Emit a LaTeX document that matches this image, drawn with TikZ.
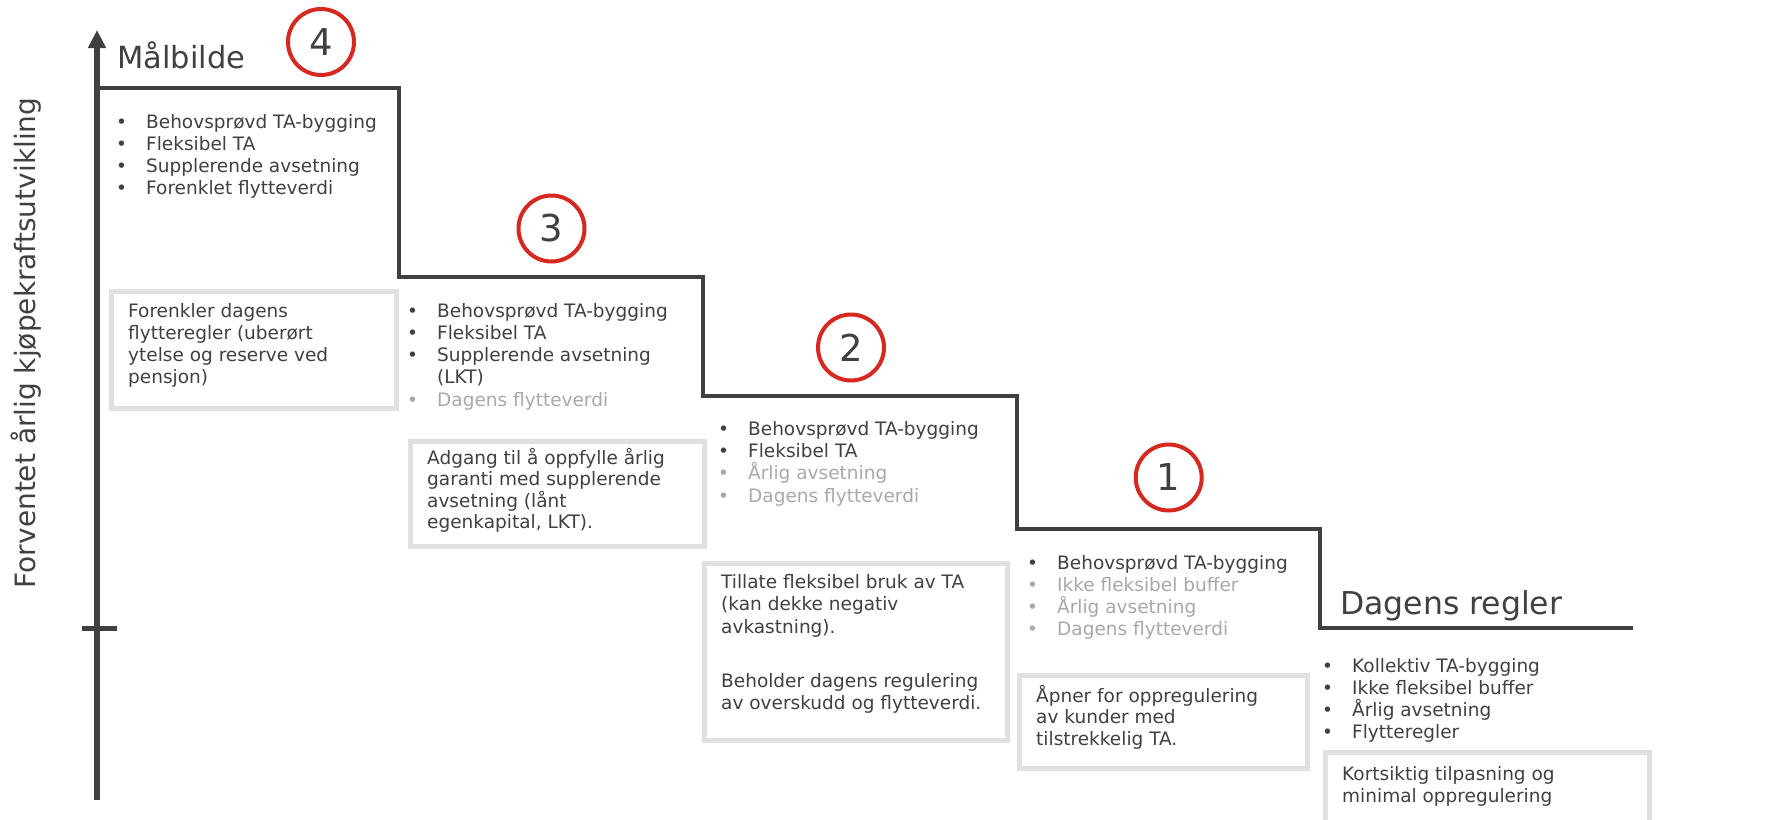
\documentclass[tikz,border=0pt]{standalone}
\usepackage{fontspec}
\setmainfont{DejaVu Sans}
\usetikzlibrary{arrows.meta}
\definecolor{ink}{RGB}{64,64,64}
\definecolor{faint}{RGB}{168,168,168}
\definecolor{boxline}{RGB}{224,224,224}
\definecolor{ringred}{RGB}{214,40,30}
\tikzset{
  txt/.style={inner sep=0pt, font=\fontsize{18.5}{22.3}\selectfont},
  framebox/.style={draw=boxline, line width=5pt, inner sep=0pt, anchor=north west},
  stairline/.style={draw=ink, line width=4.5pt, line join=miter},
  ring/.style={circle, draw=ringred, line width=4pt, minimum size=66pt, inner sep=0pt, text=ink, font=\fontsize{37}{37}\selectfont},
  title/.style={inner sep=0pt, anchor=base west, text=ink}
}
\newcommand\bul[1]{\makebox[30pt][l]{\textbullet}#1}
\newcommand\itemlines[5]{%
  \foreach \c/\t [count=\i from 0] in {#5}{%
    \node[txt, text=\c, anchor=base west] (#1-\i) at (#2, {#3+\i*#4}) {\t};
  }}
\begin{document}
\begin{tikzpicture}[x=1pt,y=-1pt]
\useasboundingbox (0,0) rectangle (1771,819);

% axis
\coordinate (axbot) at (97,800);
\coordinate (axtop) at (97,30);
\draw[draw=ink, line width=6pt, -{Triangle[width=17pt,length=18pt]}] (axbot) -- (axtop);
\coordinate (tickL) at (82,628);
\coordinate (tickR) at (117,628);
\draw[draw=ink, line width=5pt] (tickL) -- (tickR);

\node[inner sep=0pt, rotate=90, anchor=base, text=ink, font=\fontsize{28}{28}\selectfont] (ylab) at (35,343) {Forventet årlig kjøpekraftsutvikling};

% stairs
\coordinate (s0) at (97,88);
\coordinate (s1) at (399,88);
\coordinate (s2) at (399,277);
\coordinate (s3) at (703,277);
\coordinate (s4) at (703,396);
\coordinate (s5) at (1017,396);
\coordinate (s6) at (1017,529);
\coordinate (s7) at (1320,529);
\coordinate (s8) at (1320,628);
\coordinate (s9) at (1633,628);
\draw[stairline] (s0) -- (s1) -- (s2) -- (s3) -- (s4) -- (s5) -- (s6) -- (s7) -- (s8) -- (s9);

% titles
\node[title, font=\fontsize{30.5}{30.5}\selectfont] (goal) at (117,68) {Målbilde};
\node[title, font=\fontsize{31.5}{31.5}\selectfont] (today) at (1340,614) {Dagens regler};

% rings
\node[ring] (r4) at (321,42) {4};
\node[ring] (r3) at (551.5,228.5) {3};
\node[ring] (r2) at (851,347.5) {2};
\node[ring] (r1) at (1168.7,477.5) {1};

% boxes
\node[framebox, minimum width=285pt, minimum height=117pt] (box4) at (108.5,288.5) {};
\node[framebox, minimum width=294pt, minimum height=105pt] (box3) at (407.5,438.5) {};
\node[framebox, minimum width=303pt, minimum height=177pt] (box2) at (701.5,560.5) {};
\node[framebox, minimum width=288pt, minimum height=93pt] (box1) at (1016.5,672.5) {};
\node[framebox, minimum width=324pt, minimum height=95pt] (box0) at (1322.5,749.5) {};

% bullet lists
\itemlines{l4}{116}{128}{22.3}{ink/\bul{Behovsprøvd TA-bygging}, ink/\bul{Fleksibel TA}, ink/\bul{Supplerende avsetning}, ink/\bul{Forenklet flytteverdi}}
\itemlines{l3}{407}{317}{22.3}{ink/\bul{Behovsprøvd TA-bygging}, ink/\bul{Fleksibel TA}, ink/\bul{Supplerende avsetning}, ink/\makebox[30pt]{}(LKT), faint/\bul{Dagens flytteverdi}}
\itemlines{l2}{718}{435}{22.4}{ink/\bul{Behovsprøvd TA-bygging}, ink/\bul{Fleksibel TA}, faint/\bul{Årlig avsetning}, faint/\bul{Dagens flytteverdi}}
\itemlines{l1}{1027}{569}{22.0}{ink/\bul{Behovsprøvd TA-bygging}, faint/\bul{Ikke fleksibel buffer}, faint/\bul{Årlig avsetning}, faint/\bul{Dagens flytteverdi}}
\itemlines{l0}{1322}{672}{22.2}{ink/\bul{Kollektiv TA-bygging}, ink/\bul{Ikke fleksibel buffer}, ink/\bul{Årlig avsetning}, ink/\bul{Flytteregler}}

% box texts
\itemlines{t4}{128}{317}{22.2}{ink/Forenkler dagens, ink/flytteregler (uberørt, ink/ytelse og reserve ved, ink/pensjon)}
\itemlines{t3}{427}{464}{21.5}{ink/Adgang til å oppfylle årlig, ink/garanti med supplerende, ink/avsetning (lånt, ink/{egenkapital, LKT).}}
\itemlines{t2a}{721}{588}{22.5}{ink/Tillate fleksibel bruk av TA, ink/(kan dekke negativ, ink/avkastning).}
\itemlines{t2b}{721}{687}{22.5}{ink/Beholder dagens regulering, ink/av overskudd og flytteverdi.}
\itemlines{t1}{1036}{702}{21.7}{ink/Åpner for oppregulering, ink/av kunder med, ink/tilstrekkelig TA.}
\itemlines{t0}{1342}{780}{22}{ink/Kortsiktig tilpasning og, ink/minimal oppregulering}
\end{tikzpicture}
\end{document}
